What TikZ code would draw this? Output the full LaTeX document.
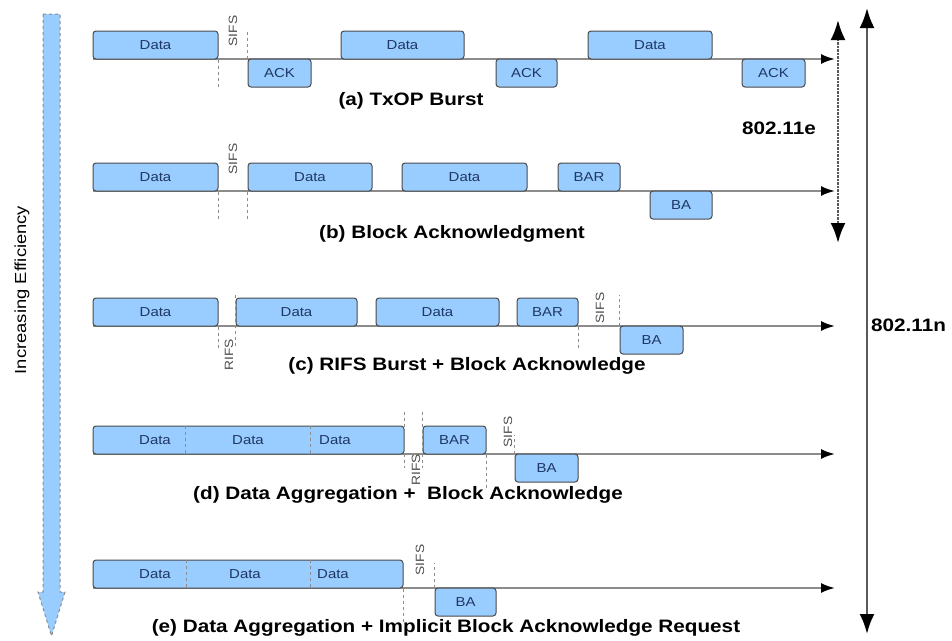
\documentclass[tikz,border=0pt]{standalone}
\usepackage{fontspec}
\setmainfont{Liberation Sans}[FakeStretch=1.15]
\usetikzlibrary{arrows.meta}
\definecolor{pktblue}{HTML}{99CCFF}
\definecolor{pktedge}{HTML}{4A4A4A}
\definecolor{pkttext}{HTML}{1F3864}
\definecolor{linegray}{HTML}{8C8C8C}
\begin{document}
\begin{tikzpicture}[x=1pt,y=-1pt,
    pkt/.style={draw=pktedge,fill=pktblue,line width=1pt,rounded corners=3pt,inner sep=0pt,
        minimum height=28pt,text=pkttext,font=\fontsize{13}{13}\selectfont},
    pktlbl/.style={text=pkttext,inner sep=0pt,font=\fontsize{13}{13}\selectfont},
    divider/.style={draw=linegray,dashed,line width=0.8pt},
    tline/.style={draw=linegray,line width=2pt,-{Latex[color=black,length=14pt,width=10pt]}},
    ifs/.style={rotate=90,text=black!70,inner sep=0pt,font=\fontsize{12}{12}\selectfont},
    ifsline/.style={draw=linegray,dashed,line width=1pt},
    caption/.style={inner sep=0pt,font=\bfseries\fontsize{18}{18}\selectfont},
    stdlbl/.style={inner sep=0pt,font=\bfseries\fontsize{18}{18}\selectfont},
    stdarrow/.style={draw=black!65,line width=2.5pt,{Latex[color=black,length=20pt,width=15pt]}-{Latex[color=black,length=20pt,width=15pt]}}]
    \useasboundingbox (0,0) rectangle (952,640);

    \draw[fill=pktblue,draw=linegray,dashed,line width=1pt]
        (43,14) -- (60,14) -- (60,592) -- (65,592) -- (51.5,636) -- (38,592) -- (43,592) -- cycle;
    \node[rotate=90,font=\fontsize{16}{16}\selectfont] (eff) at (22,290) {Increasing Efficiency};

    \coordinate (a0) at (93,59);
    \coordinate (aend) at (835,59);
    \draw[tline] (a0) -- (aend);
    \node[pkt,minimum width=125pt] (a1) at (155.5,45) {Data};
    \node[pkt,minimum width=63pt] (ak1) at (279.5,73) {ACK};
    \node[pkt,minimum width=123pt] (a2) at (402.5,45) {Data};
    \node[pkt,minimum width=61pt] (ak2) at (526.5,73) {ACK};
    \node[pkt,minimum width=124pt] (a3) at (650,45) {Data};
    \node[pkt,minimum width=63pt] (ak3) at (773.5,73) {ACK};
    \node[ifs] (as) at (233,31) {SIFS};
    \draw[ifsline] (a1.south east) -- ++(0,28);
    \draw[ifsline] (ak1.north west) -- ++(0,-29);
    \node[caption] (acap) at (411,101) {(a) TxOP Burst};

    \coordinate (b0) at (93,191);
    \coordinate (bend) at (835,191);
    \draw[tline] (b0) -- (bend);
    \node[pkt,minimum width=125pt] (b1) at (155.5,177) {Data};
    \node[pkt,minimum width=124pt] (b2) at (310,177) {Data};
    \node[pkt,minimum width=125pt] (b3) at (464.5,177) {Data};
    \node[pkt,minimum width=62pt] (bbar) at (589,177) {BAR};
    \node[pkt,minimum width=62pt] (bba) at (681,205) {BA};
    \node[ifs] (bs) at (233,159) {SIFS};
    \draw[ifsline] (b1.south east) -- ++(0,27);
    \draw[ifsline] (b2.south west) -- ++(0,27);
    \node[caption] (bcap) at (452,234) {(b) Block Acknowledgment};

    \coordinate (c0) at (93,326);
    \coordinate (cend) at (835,326);
    \draw[tline] (c0) -- (cend);
    \node[pkt,minimum width=125pt] (c1) at (155.5,312) {Data};
    \node[pkt,minimum width=121pt] (c2) at (296.5,312) {Data};
    \node[pkt,minimum width=123pt] (c3) at (437.5,312) {Data};
    \node[pkt,minimum width=61pt] (cbar) at (547.5,312) {BAR};
    \node[pkt,minimum width=63pt] (cba) at (651.5,340) {BA};
    \node[ifs] (cr) at (229,355) {RIFS};
    \draw[ifsline] (c1.south east) -- ++(0,24);
    \draw[ifsline] ([yshift=3pt]c2.north west) -- ([yshift=-19pt]c2.south west);
    \node[ifs] (cs) at (600,308) {SIFS};
    \draw[ifsline] (cbar.south east) -- ++(0,24);
    \draw[ifsline] (cba.north west) -- ++(0,-31);
    \node[caption] (ccap) at (467,366) {(c) RIFS Burst + Block Acknowledge};

    \coordinate (d0) at (93,454);
    \coordinate (dend) at (835,454);
    \draw[tline] (d0) -- (dend);
    \node[pkt,minimum width=311pt] (dbox) at (248.5,440) {};
    \node[pktlbl] (dd1) at (155,440) {Data};
    \node[pktlbl] (dd2) at (248,440) {Data};
    \node[pktlbl] (dd3) at (335,440) {Data};
    \draw[divider] ([xshift=93pt]dbox.north west) -- ([xshift=93pt]dbox.south west);
    \draw[divider] ([xshift=218pt]dbox.north west) -- ([xshift=218pt]dbox.south west);
    \node[pkt,minimum width=63pt] (dbar) at (454.5,440) {BAR};
    \node[pkt,minimum width=63pt] (dba) at (546.5,468) {BA};
    \node[ifs] (dr) at (416,470) {RIFS};
    \draw[ifsline] ([yshift=14pt]dbox.north east) -- ([yshift=-13pt]dbox.south east);
    \draw[ifsline] ([yshift=14pt]dbar.north west) -- ([yshift=-13pt]dbar.south west);
    \node[ifs] (ds) at (508,432) {SIFS};
    \draw[ifsline] (dbar.south east) -- ++(0,33);
    \draw[ifsline] (dba.north west) -- ++(0,-19);
    \node[caption] (dcap) at (408,495) {(d) Data Aggregation +\ \ Block Acknowledge};

    \coordinate (e0) at (93,588);
    \coordinate (eend) at (835,588);
    \draw[tline] (e0) -- (eend);
    \node[pkt,minimum width=310pt] (ebox) at (248,574) {};
    \node[pktlbl] (ed1) at (155,574) {Data};
    \node[pktlbl] (ed2) at (245,574) {Data};
    \node[pktlbl] (ed3) at (333,574) {Data};
    \draw[divider] ([xshift=94pt]ebox.north west) -- ([xshift=94pt]ebox.south west);
    \draw[divider] ([xshift=218pt]ebox.north west) -- ([xshift=218pt]ebox.south west);
    \node[pkt,minimum width=61pt] (eba) at (465.5,602) {BA};
    \node[ifs] (es) at (420,560) {SIFS};
    \draw[ifsline] (ebox.south east) -- ++(0,35);
    \draw[ifsline] (eba.north west) -- ++(0,-25);
    \node[caption] (ecap) at (446,628) {(e) Data Aggregation + Implicit Block Acknowledge Request};

    \coordinate (etop) at (838,20);
    \coordinate (ebot) at (838,243);
    \draw[stdarrow,densely dotted] (etop) -- (ebot);
    \node[stdlbl] (std11e) at (779,128) {802.11e};
    \coordinate (ntop) at (867,8);
    \coordinate (nbot) at (867,634);
    \draw[stdarrow] (ntop) -- (nbot);
    \node[stdlbl,anchor=west] (std11n) at (871,325) {802.11n};
\end{tikzpicture}
\end{document}
